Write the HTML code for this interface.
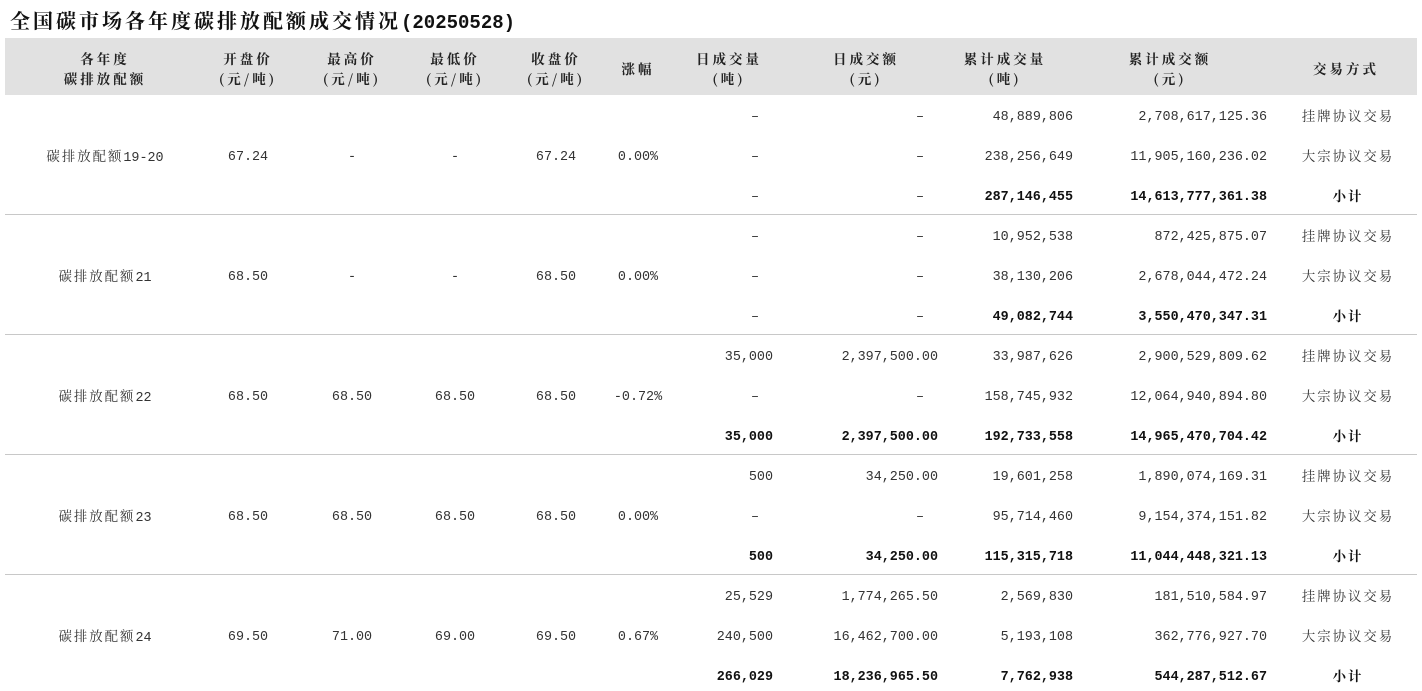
<!DOCTYPE html>
<html><head><meta charset="utf-8"><style>
body{margin:0;width:1422px;height:691px;background:#fff;position:relative;overflow:hidden;font-family:"Liberation Mono","Noto Serif CJK SC",monospace;color:#333}
.t{position:absolute;white-space:nowrap;font-size:13.4px;line-height:16px}
.c{transform:translateX(-50%)}
.r{transform:translateX(-100%)}
.z{font-family:"Noto Serif CJK SC",serif;letter-spacing:2px}
.b{font-weight:bold;color:#111}
.h{font-family:"Noto Serif CJK SC",serif;font-weight:bold;letter-spacing:3px;color:#222;font-size:13.5px;text-align:center;line-height:20px}
.line{position:absolute;left:5px;width:1412px;height:1px;background:#c8c8c8}
</style></head><body>
<div style="position:absolute;left:10px;top:5px;white-space:nowrap;color:#111;font-weight:bold"><span style="font-family:'Noto Serif CJK SC',serif;font-size:20px;letter-spacing:3px">全国碳市场各年度碳排放配额成交情况</span><span style="font-family:'Liberation Mono',monospace;font-size:19px">(20250528)</span></div>
<div style="position:absolute;left:5px;top:38px;width:1412px;height:57px;background:#e1e1e1"></div>
<div class="t h c" style="left:105px;top:48px">各年度<br>碳排放配额</div>
<div class="t h c" style="left:248px;top:48px">开盘价<br>(元/吨)</div>
<div class="t h c" style="left:352px;top:48px">最高价<br>(元/吨)</div>
<div class="t h c" style="left:455px;top:48px">最低价<br>(元/吨)</div>
<div class="t h c" style="left:556px;top:48px">收盘价<br>(元/吨)</div>
<div class="t h c" style="left:638px;top:58px">涨幅</div>
<div class="t h c" style="left:729px;top:48px">日成交量<br>(吨)</div>
<div class="t h c" style="left:866px;top:48px">日成交额<br>(元)</div>
<div class="t h c" style="left:1005px;top:48px">累计成交量<br>(吨)</div>
<div class="t h c" style="left:1170px;top:48px">累计成交额<br>(元)</div>
<div class="t h c" style="left:1346px;top:58px">交易方式</div>
<div class="line" style="top:214px"></div>
<div class="line" style="top:334px"></div>
<div class="line" style="top:454px"></div>
<div class="line" style="top:574px"></div>
<div id="rows"></div>
<script>
var g=[
["碳排放配额19-20","67.24","-","-","67.24","0.00%",[["-","-","48,889,806","2,708,617,125.36"],["-","-","238,256,649","11,905,160,236.02"],["-","-","287,146,455","14,613,777,361.38"]]],
["碳排放配额21","68.50","-","-","68.50","0.00%",[["-","-","10,952,538","872,425,875.07"],["-","-","38,130,206","2,678,044,472.24"],["-","-","49,082,744","3,550,470,347.31"]]],
["碳排放配额22","68.50","68.50","68.50","68.50","-0.72%",[["35,000","2,397,500.00","33,987,626","2,900,529,809.62"],["-","-","158,745,932","12,064,940,894.80"],["35,000","2,397,500.00","192,733,558","14,965,470,704.42"]]],
["碳排放配额23","68.50","68.50","68.50","68.50","0.00%",[["500","34,250.00","19,601,258","1,890,074,169.31"],["-","-","95,714,460","9,154,374,151.82"],["500","34,250.00","115,315,718","11,044,448,321.13"]]],
["碳排放配额24","69.50","71.00","69.00","69.50","0.67%",[["25,529","1,774,265.50","2,569,830","181,510,584.97"],["240,500","16,462,700.00","5,193,108","362,776,927.70"],["266,029","18,236,965.50","7,762,938","544,287,512.67"]]]];
var h="",ways=["挂牌协议交易","大宗协议交易","小计"],rx=[773,938,1073,1267],cx=[248,352,455,556,638];
g.forEach(function(a,i){var y0=108+i*120;
h+='<div class="t c" style="left:105px;top:'+(y0+40)+'px">'+a[0].replace(/^(碳排放配额)/,'<span class="z">$1</span>')+'</div>';
for(var k=0;k<5;k++)h+='<div class="t c" style="left:'+cx[k]+'px;top:'+(y0+42)+'px">'+a[k+1]+'</div>';
a[6].forEach(function(r,j){var y=y0+j*40,b=j==2?' b':'';
r.forEach(function(v,m){var d=v=="-";h+='<div class="t r'+(d?'':b)+'" style="left:'+(rx[m]-(d?14:0))+'px;top:'+(y+2)+'px">'+(d?'–':v)+'</div>';});
h+='<div class="t c z'+b+'" style="left:1348px;top:'+y+'px">'+ways[j]+'</div>';});});
document.getElementById("rows").innerHTML=h;
</script>
</body></html>
